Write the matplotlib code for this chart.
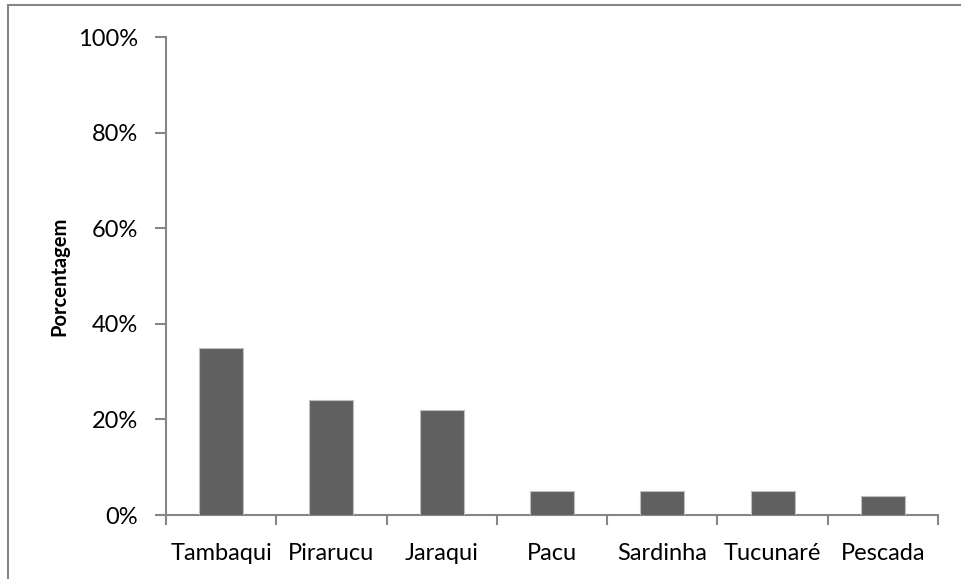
import matplotlib
matplotlib.use("Agg")
import matplotlib.pyplot as plt
from matplotlib.ticker import PercentFormatter, FixedLocator
from matplotlib.patches import Rectangle

categories = ["Tambaqui", "Pirarucu", "Jaraqui", "Pacu", "Sardinha", "Tucunaré", "Pescada"]
values = [35, 24, 22, 5, 5, 5, 4]
yticks = [0, 20, 40, 60, 80, 100]

plt.rcParams['font.family'] = ['Lato', 'DejaVu Sans']

W, H = 961, 579
fig = plt.figure(figsize=(W / 100, H / 100), dpi=100)
ax = fig.add_axes([166 / W, 1 - 515 / H, (938 - 166) / W, (515 - 37) / H])

# outer frame
fig.patches.append(Rectangle((8 / W, -0.01), 1.02, 1 - 5 / H + 0.01, transform=fig.transFigure,
                             fill=False, edgecolor="#868686", linewidth=1.5))

x = list(range(len(categories)))
ax.bar(x, values, width=0.4, color="#606060", edgecolor="#bfbfbf", linewidth=0.8, zorder=3)

ax.set_xlim(-0.5, len(categories) - 0.5)
ax.set_ylim(0, 100)
ax.set_yticks(yticks)
ax.yaxis.set_major_formatter(PercentFormatter(decimals=0))
ax.set_xticks(x)
ax.set_xticklabels(categories)
ax.tick_params(axis="x", length=0, labelsize=17, pad=20)
ax.xaxis.set_minor_locator(FixedLocator([i - 0.5 for i in range(len(categories) + 1)]))
ax.tick_params(axis="x", which="minor", length=7, width=1.5, color="#868686", direction="out")
ax.tick_params(axis="y", length=8, width=1.5, color="#868686", labelsize=17, pad=12)

for s in ["top", "right"]:
    ax.spines[s].set_visible(False)
for s in ["left", "bottom"]:
    ax.spines[s].set_color("#868686")
    ax.spines[s].set_linewidth(1.5)

ax.set_ylabel("Porcentagem", fontsize=14.5, fontweight="bold", labelpad=6)

fig.savefig("out.png", dpi=100)
